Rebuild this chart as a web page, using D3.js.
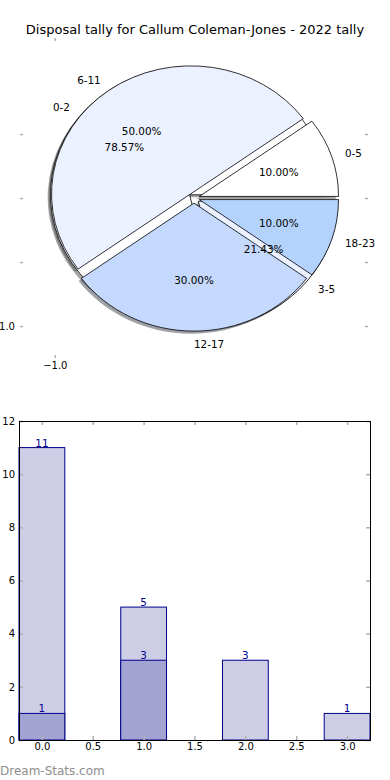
<!DOCTYPE html>
<html>
<head>
<meta charset="utf-8">
<script src="https://cdn.jsdelivr.net/npm/d3@7"></script>
<style>
  body { margin: 0; background: #fff; }
  svg { display: block; font-family: "DejaVu Sans", sans-serif; }
</style>
</head>
<body>
<div id="app"></div>
<script>
// pie data (two pies drawn on the same axes)
const outerLabels = ["0-5", "6-11", "12-17", "18-23"];
const outerValues = [1, 5, 3, 1];
const innerLabels = ["0-2", "3-5"];
const innerValues = [11, 3];

// bar data
const barPositions = [0, 1, 2, 3];
const lightValues = [11, 5, 3, 1];
const darkValues = [1, 3, 0, 0];
const barXTicks = [0, 0.5, 1, 1.5, 2, 2.5, 3];
const barYTicks = [0, 2, 4, 6, 8, 10, 12];
const pieYTicks = [0.5, 0, -0.5, -1];
const pieXTicks = [-1];

const sliceColors = ["#ffffff", "#ebf1fe", "#c5d8fe", "#b3d3fd"];
const navy = "#00008b";
const tickGray = "#b0b0b0";
const explode = 0.04;

const width = 390, height = 780;

const svg = d3.select("#app")
  .append("svg")
  .attr("width", width)
  .attr("height", height);

svg.append("text")
  .attr("x", 195)
  .attr("y", 34)
  .attr("text-anchor", "middle")
  .attr("font-size", 13)
  .text("Disposal tally for Callum Coleman-Jones - 2022 tally");

// ---------- pie ----------
const pieX = d3.scaleLinear().domain([-1.25, 1.25]).range([20, 368]);
const pieY = d3.scaleLinear().domain([-1.25, 1.25]).range([358, 38]);

const pie = d3.pie().sort(null).startAngle(0).endAngle(2 * Math.PI);

function wedge(d, off) {
  const mid = (d.startAngle + d.endAngle) / 2;
  const cx = explode * Math.cos(mid) + off;
  const cy = explode * Math.sin(mid) + off;
  const rx = pieX(1) - pieX(0), ry = pieY(0) - pieY(1);
  const x0 = pieX(cx + Math.cos(d.startAngle)), y0 = pieY(cy + Math.sin(d.startAngle));
  const x1 = pieX(cx + Math.cos(d.endAngle)), y1 = pieY(cy + Math.sin(d.endAngle));
  const large = (d.endAngle - d.startAngle) > Math.PI ? 1 : 0;
  return `M${pieX(cx)},${pieY(cy)}L${x0},${y0}A${rx},${ry} 0 ${large} 0 ${x1},${y1}Z`;
}

function shade(c) {
  const k = d3.rgb(c);
  return d3.rgb(k.r * 0.3, k.g * 0.3, k.b * 0.3).toString();
}

const innerArcs = pie(innerValues);
const outerArcs = pie(outerValues);

const pieG = svg.append("g");

// shadows go under all wedges
[innerArcs, outerArcs].forEach(arcs => {
  pieG.append("g").selectAll("path")
    .data(arcs)
    .enter()
    .append("path")
    .attr("d", d => wedge(d, -0.02))
    .attr("fill", (d, i) => shade(sliceColors[i]))
    .attr("fill-opacity", 0.5);
});

[innerArcs, outerArcs].forEach(arcs => {
  pieG.append("g").selectAll("path")
    .data(arcs)
    .enter()
    .append("path")
    .attr("d", d => wedge(d, 0))
    .attr("fill", (d, i) => sliceColors[i])
    .attr("stroke", "#000")
    .attr("stroke-width", 0.8)
    .attr("stroke-linejoin", "miter");
});

function pieText(arcs, labels, values) {
  const total = d3.sum(values);
  arcs.forEach((d, i) => {
    const mid = (d.startAngle + d.endAngle) / 2;
    const cx = explode * Math.cos(mid), cy = explode * Math.sin(mid);
    const lx = cx + 1.1 * Math.cos(mid), ly = cy + 1.1 * Math.sin(mid);
    pieG.append("text")
      .attr("x", pieX(lx))
      .attr("y", pieY(ly))
      .attr("dy", "0.36em")
      .attr("font-size", 10.4)
      .attr("text-anchor", Math.cos(mid) > -1e-6 ? "start" : "end")
      .text(labels[i]);
    const px = cx + 0.6 * Math.cos(mid), py = cy + 0.6 * Math.sin(mid);
    pieG.append("text")
      .attr("x", pieX(px))
      .attr("y", pieY(py))
      .attr("dy", "0.36em")
      .attr("font-size", 10.4)
      .attr("text-anchor", "middle")
      .text(d3.format(".2f")(values[i] / total * 100) + "%");
  });
}
pieText(outerArcs, outerLabels, outerValues);
pieText(innerArcs, innerLabels, innerValues);

function styleTicks(g) {
  g.select(".domain").remove();
  g.selectAll(".tick line").attr("stroke", tickGray).attr("stroke-width", 1.5);
  g.selectAll(".tick text").attr("fill", "#000").attr("font-family", "DejaVu Sans").attr("font-size", 10);
}

const pieFmt = d => d === -1 ? d3.format(".1f")(d) : "";
svg.append("g").attr("transform", "translate(20,0)")
  .call(d3.axisLeft(pieY).tickValues(pieYTicks).tickSize(-3).tickPadding(5).tickFormat(pieFmt))
  .call(styleTicks);
svg.append("g").attr("transform", "translate(368,0)")
  .call(d3.axisRight(pieY).tickValues(pieYTicks).tickSize(-3).tickFormat(""))
  .call(styleTicks);
svg.append("g").attr("transform", "translate(0,38)")
  .call(d3.axisTop(pieX).tickValues(pieXTicks).tickSize(-3).tickFormat(""))
  .call(styleTicks);
svg.append("g").attr("transform", "translate(0,358)")
  .call(d3.axisBottom(pieX).tickValues(pieXTicks).tickSize(-3).tickPadding(4).tickFormat(pieFmt))
  .call(styleTicks);

// ---------- bars ----------
const barW = 0.45;
const barX = d3.scaleLinear().domain([-0.225, 3.225]).range([19, 370]);
const barY = d3.scaleLinear().domain([0, 12]).range([740, 421]);

const barG = svg.append("g");

function drawBars(values, color) {
  barG.append("g").selectAll("rect")
    .data(values.map((v, i) => ({ v, p: barPositions[i] })).filter(d => d.v > 0))
    .enter()
    .append("rect")
    .attr("x", d => barX(d.p - barW / 2))
    .attr("y", d => barY(d.v))
    .attr("width", barX(barW) - barX(0))
    .attr("height", d => barY(0) - barY(d.v))
    .attr("fill", color)
    .attr("stroke", navy)
    .attr("stroke-width", 1);
}
drawBars(lightValues, "#cdcde6");
drawBars(darkValues, "#a3a3d2");

function drawLabels(values) {
  barG.append("g").selectAll("text")
    .data(values.map((v, i) => ({ v, p: barPositions[i] })).filter(d => d.v > 0))
    .enter()
    .append("text")
    .attr("x", d => barX(d.p))
    .attr("y", d => barY(d.v) - 1)
    .attr("text-anchor", "middle")
    .attr("font-size", 10.4)
    .attr("fill", navy)
    .text(d => d.v);
}
drawLabels(lightValues);
drawLabels(darkValues);

svg.append("g").attr("transform", "translate(0,740)")
  .call(d3.axisBottom(barX).tickValues(barXTicks).tickSize(-4).tickPadding(3).tickFormat(d3.format(".1f")))
  .call(styleTicks);
svg.append("g").attr("transform", "translate(0,421)")
  .call(d3.axisTop(barX).tickValues(barXTicks).tickSize(-4).tickFormat(""))
  .call(styleTicks);
svg.append("g").attr("transform", "translate(19,0)")
  .call(d3.axisLeft(barY).tickValues(barYTicks).tickSize(-4).tickPadding(4).tickFormat(d3.format("d")))
  .call(styleTicks);
svg.append("g").attr("transform", "translate(370,0)")
  .call(d3.axisRight(barY).tickValues(barYTicks).tickSize(-4).tickFormat(""))
  .call(styleTicks);

svg.append("rect")
  .attr("x", 19.5)
  .attr("y", 421.5)
  .attr("width", 351)
  .attr("height", 319)
  .attr("fill", "none")
  .attr("stroke", "#000")
  .attr("stroke-width", 1);

svg.append("text")
  .attr("x", 0)
  .attr("y", 775)
  .attr("font-size", 12)
  .attr("fill", "#8e8e8e")
  .text("Dream-Stats.com");
</script>
</body>
</html>
